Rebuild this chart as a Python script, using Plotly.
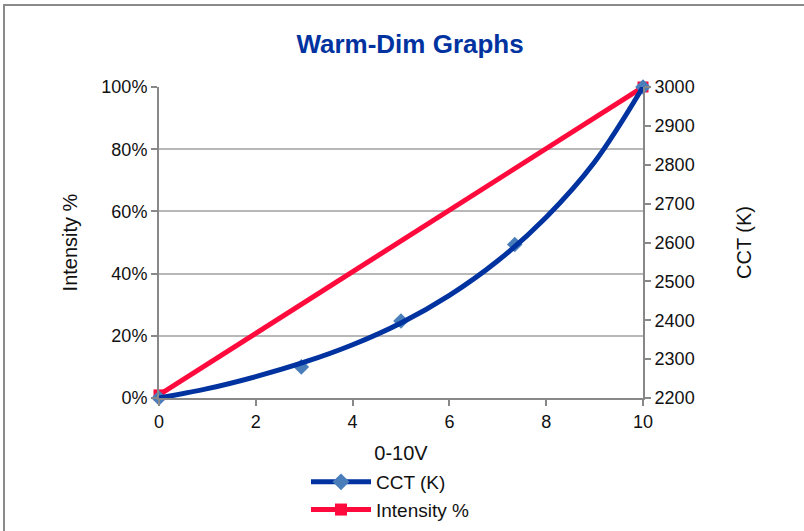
import plotly.graph_objects as go

# Data
volt_cct = [0, 2.94, 5, 7.35, 10]
cct_points = [2200, 2280, 2398, 2595, 3000]

# smooth CCT trend line
volt_curve = [0, 1, 2, 3, 4, 5, 6, 7, 8, 9, 10]
cct_curve = [2200, 2224, 2255, 2292, 2337, 2393, 2464, 2553, 2665, 2807, 3000]

volt_int = [0, 10]
intensity = [1, 100]

x_ticks = [0, 2, 4, 6, 8, 10]
left_ticks = [0, 20, 40, 60, 80, 100]
left_labels = ["0%", "20%", "40%", "60%", "80%", "100%"]
right_ticks = [2200, 2300, 2400, 2500, 2600, 2700, 2800, 2900, 3000]

DARK_BLUE = "#0033a0"
LIGHT_BLUE = "#4a7ebb"
RED = "#ff0a3c"
FONT = "Liberation Sans, Arial, sans-serif"

fig = go.Figure()

fig.add_trace(go.Scatter(
    x=volt_int, y=intensity, mode="lines+markers", name="Intensity %",
    line=dict(color=RED, width=5),
    marker=dict(symbol="square", size=11, color=RED),
    cliponaxis=False, showlegend=False, yaxis="y"))

fig.add_trace(go.Scatter(
    x=volt_cct, y=cct_points, mode="markers", name="CCT (K)",
    marker=dict(symbol="diamond", size=12, color=LIGHT_BLUE),
    cliponaxis=False, showlegend=False, yaxis="y2"))

fig.add_trace(go.Scatter(
    x=volt_curve, y=cct_curve, mode="lines", name="CCT (K)",
    line=dict(color=DARK_BLUE, width=5, shape="spline", smoothing=1),
    cliponaxis=False, showlegend=False, yaxis="y2"))

# legend entries
fig.add_trace(go.Scatter(
    x=[None], y=[None], mode="lines+markers", name="CCT (K)",
    legendgroup="a",
    line=dict(color=DARK_BLUE, width=5),
    marker=dict(symbol="diamond", size=13, color=LIGHT_BLUE), yaxis="y2"))
fig.add_trace(go.Scatter(
    x=[None], y=[None], mode="lines+markers", name="Intensity %",
    legendgroup="b",
    line=dict(color=RED, width=5),
    marker=dict(symbol="square", size=12, color=RED), yaxis="y"))

L, R, T, B = 159, 161, 87, 133
W, H = 804, 531
pw, ph = W - L - R, H - T - B

def px(x):
    return (x - L) / pw

def py(y):
    return (H - B - y) / ph

fig.update_layout(
    width=W, height=H,
    margin=dict(l=L, r=R, t=T, b=B, autoexpand=False),
    paper_bgcolor="white", plot_bgcolor="white",
    font=dict(family=FONT, size=18, color="#111"),
    title=dict(text="<b>Warm-Dim Graphs</b>", x=0.51, xanchor="center",
               y=1 - 44 / H, yanchor="middle",
               font=dict(size=26, color=DARK_BLUE, family=FONT)),
    xaxis=dict(range=[0, 10], tickvals=x_ticks, showgrid=False,
               showline=True, linecolor="#888", linewidth=2,
               ticks="outside", tickcolor="#888", ticklen=6, tickwidth=2,
               title=dict(text="0-10V", font=dict(size=20), standoff=15),
               tickfont=dict(size=18), zeroline=False),
    yaxis=dict(range=[0, 100], tickvals=left_ticks, ticktext=left_labels,
               showgrid=True, gridcolor="#b8b8b8", gridwidth=2,
               showline=True, linecolor="#888", linewidth=2,
               ticks="outside", tickcolor="#888", ticklen=6, tickwidth=2,
               title=dict(text="Intensity %", font=dict(size=20), standoff=18),
               tickfont=dict(size=18), zeroline=False),
    yaxis2=dict(range=[2200, 3000], tickvals=right_ticks, overlaying="y",
                side="right", showgrid=False,
                showline=True, linecolor="#888", linewidth=2,
                ticks="outside", tickcolor="#888", ticklen=6, tickwidth=2,
                title=dict(text="CCT (K)", font=dict(size=20), standoff=43),
                tickfont=dict(size=18), zeroline=False),
    legend=dict(x=px(306), xanchor="left", y=py(463), yanchor="top",
                orientation="v", font=dict(size=19), bgcolor="rgba(0,0,0,0)",
                tracegroupgap=0, itemwidth=60),
)

# outer frame of the chart
fig.add_shape(type="rect", xref="paper", yref="paper",
              x0=px(4), x1=px(812), y0=py(545), y1=py(5),
              line=dict(color="#8a8a8a", width=2), layer="below")

fig.write_html("out.html",
               config={"displayModeBar": False},
               post_script="document.body.style.margin='0';document.body.style.padding='0';")
